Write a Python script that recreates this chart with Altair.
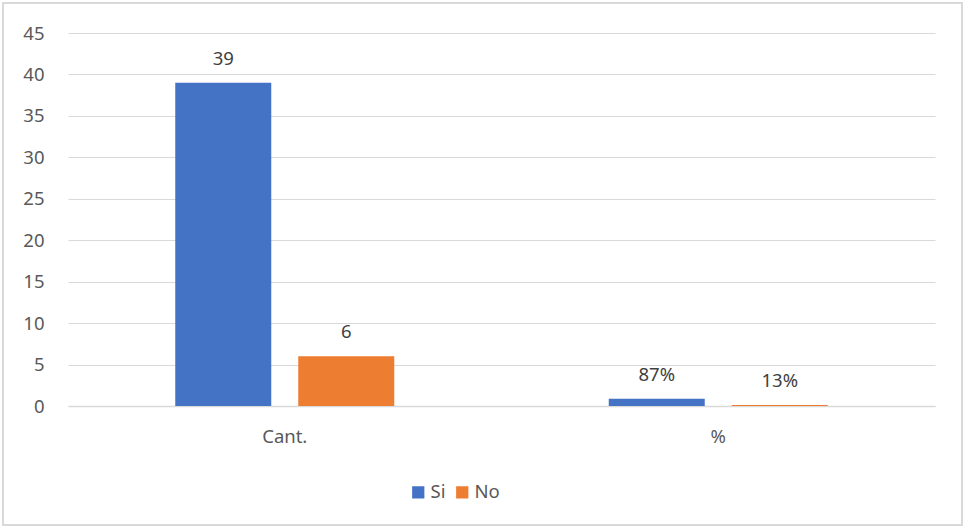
import altair as alt
import pandas as pd

categories = ["Cant.", "%"]
series = ["Si", "No"]
si_values = [39, 0.87]
no_values = [6, 0.13]
si_labels = ["39", "87%"]
no_labels = ["6", "13%"]
colors = ["#4472C4", "#ED7D31"]

rows = []
for i, cat in enumerate(categories):
    rows.append({"cat": cat, "serie": "Si", "valor": si_values[i], "etiqueta": si_labels[i]})
    rows.append({"cat": cat, "serie": "No", "valor": no_values[i], "etiqueta": no_labels[i]})
df = pd.DataFrame(rows)

FONT = "Noto Sans"
TXT = "#595959"
FS = 18.5

x_enc = alt.X("cat:N", sort=categories, title=None,
              scale=alt.Scale(paddingInner=0, paddingOuter=0),
              axis=alt.Axis(labelAngle=0, ticks=False, domain=True, domainColor="#d9d9d9",
                            domainWidth=1.5, labelPadding=21, labelFontSize=FS,
                            labelColor=TXT, labelFont=FONT, grid=False))
xoff_enc = alt.XOffset("serie:N", sort=series,
                       scale=alt.Scale(paddingInner=0.2195, paddingOuter=0.872))
y_enc = alt.Y("valor:Q", title=None,
              scale=alt.Scale(domain=[0, 45], nice=False),
              axis=alt.Axis(values=list(range(0, 50, 5)), ticks=False, domain=False,
                            gridColor="#d9d9d9", gridWidth=1.2, labelPadding=24,
                            labelFontSize=FS, labelColor=TXT, labelFont=FONT))

bars = alt.Chart(df).mark_bar().encode(
    x=x_enc,
    xOffset=xoff_enc,
    y=y_enc,
    color=alt.Color("serie:N", sort=series,
                    scale=alt.Scale(domain=series, range=colors),
                    legend=alt.Legend(title=None, orient="none", direction="horizontal",
                                      legendX=341, legendY=450, symbolType="square",
                                      symbolSize=150, symbolStrokeWidth=0,
                                      labelFontSize=FS, labelColor=TXT, labelFont=FONT,
                                      columnPadding=7, labelOffset=3)),
)

labels = alt.Chart(df).mark_text(dy=-24, baseline="middle", fontSize=FS,
                                 color="#404040", font=FONT).encode(
    x=alt.X("cat:N", sort=categories),
    xOffset=alt.XOffset("serie:N", sort=series),
    y=alt.Y("valor:Q"),
    text="etiqueta:N",
)

frame = alt.Chart(df).mark_rect(fill="white", fillOpacity=0, stroke="#d9d9d9",
                                strokeWidth=1.5).encode(
    x=alt.value(-65), x2=alt.value(894), y=alt.value(-30), y2=alt.value(492),
)

chart = alt.layer(frame, bars, labels).properties(
    width=867, height=373,
    padding={"left": 68, "top": 33, "right": 30, "bottom": 123},
    autosize=alt.AutoSizeParams(type="none"),
    background="white",
).configure_view(stroke=None)

chart.save("out.html", embed_options={"renderer": "svg", "actions": False})
